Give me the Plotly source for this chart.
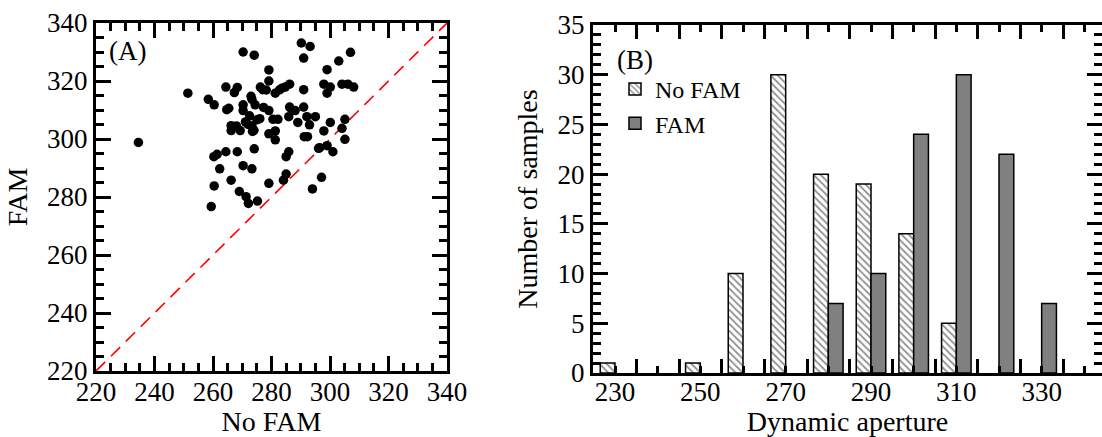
import plotly.graph_objects as go

# ---- Panel A data (scatter) ----
no_fam = [234.5, 251.4, 258.4, 260.4, 259.4, 260.4, 260.3, 261.4, 262.3, 264.4,
          264.4, 264.7, 265.4, 266.2, 266.2, 266.2, 267.3, 268.3, 268.3, 269.0,
          269.3, 270.3, 270.3, 270.3, 270.3, 271.1, 271.3, 272.1, 273.0, 273.3,
          273.3, 273.3, 273.5, 274.1, 274.1, 274.4, 275.0, 275.2, 276.2, 277.3,
          278.2, 279.1, 279.1, 279.1, 279.1, 279.1, 280.5, 281.3, 281.3, 281.3,
          282.2, 282.7, 284.1, 284.7, 285.0, 285.0, 285.9, 285.9, 286.2, 286.2,
          288.1, 289.0, 290.2, 291.0, 291.0, 291.0, 291.2, 292.1, 292.3, 293.0,
          293.2, 294.0, 295.0, 296.1, 297.1, 297.9, 297.9, 299.0, 299.0, 299.0,
          300.1, 300.1, 301.0, 303.0, 304.1, 304.1, 305.1, 305.1, 306.1, 307.0,
          308.1, 272.0, 274.0, 276.0, 272.5, 268.0, 277.0, 283.5, 287.0, 296.5]
fam = [298.8, 315.8, 313.7, 311.8, 276.7, 283.8, 293.9, 294.7, 289.7, 295.6,
       317.9, 310.1, 310.6, 304.6, 302.9, 285.8, 316.0, 317.8, 295.6, 281.9,
       302.9, 330.0, 311.8, 309.8, 290.8, 305.9, 280.1, 277.8, 314.7, 313.7,
       289.7, 304.5, 302.6, 328.9, 296.6, 311.8, 306.6, 278.6, 317.9, 310.9,
       316.9, 323.8, 320.0, 309.8, 301.8, 284.7, 306.8, 299.7, 302.8, 315.8,
       306.8, 316.9, 285.8, 317.9, 287.9, 293.9, 295.6, 307.7, 311.0, 318.9,
       309.8, 305.7, 333.1, 327.9, 317.0, 311.0, 300.8, 307.7, 300.8, 304.9,
       331.9, 282.8, 307.7, 296.8, 286.8, 302.8, 318.9, 323.9, 315.8, 297.7,
       317.9, 305.7, 295.6, 326.9, 303.7, 318.9, 306.8, 299.9, 318.9, 329.9,
       317.9, 305.0, 303.0, 307.0, 308.0, 304.5, 317.0, 317.5, 310.0, 297.0]
diag = [220, 340]

# ---- Panel B data (histogram) ----
bins_nofam = [230, 250, 260, 270, 280, 290, 300, 310]
counts_nofam = [1, 1, 10, 30, 20, 19, 14, 5]
bins_fam = [280, 290, 300, 310, 320, 330]
counts_fam = [7, 10, 24, 30, 22, 7]

a_ticks = [220, 240, 260, 280, 300, 320, 340]
b_xlabels = [230, 250, 270, 290, 310, 330]
b_major = [235, 245, 255, 265, 275, 285, 295, 305, 315, 325, 335]
b_minor = [230, 240, 250, 260, 270, 280, 290, 300, 310, 320, 330, 340]

FONT = "Liberation Serif, Times New Roman, serif"
W, H = 1102, 437
TICK_FS = 27
TITLE_FS = 28
BAR_W = 3.46  # bar width in axis units (each of the paired bars)

fig = go.Figure()
fig.add_trace(go.Scatter(x=diag, y=diag, mode="lines",
                         line=dict(color="#ff0000", width=1.6, dash="13px,8px"),
                         showlegend=False, xaxis="x", yaxis="y"))
fig.add_trace(go.Scatter(x=no_fam, y=fam, mode="markers",
                         marker=dict(color="black", size=9.5),
                         showlegend=False, xaxis="x", yaxis="y"))

fig.add_trace(go.Bar(x=bins_nofam, y=counts_nofam, name="No FAM",
                     width=BAR_W, offset=-BAR_W,
                     marker=dict(color="white", line=dict(color="black", width=1.5),
                                 pattern=dict(shape="\\", fgcolor="#222222", bgcolor="white",
                                              size=5, solidity=0.35)),
                     xaxis="x2", yaxis="y2"))
fig.add_trace(go.Bar(x=bins_fam, y=counts_fam, name="FAM",
                     width=BAR_W, offset=0,
                     marker=dict(color="#808080", line=dict(color="black", width=1.5)),
                     xaxis="x3", yaxis="y2"))

axcommon = dict(showline=True, linewidth=3, linecolor="black", mirror="ticks",
                ticks="inside", tickwidth=2.5, tickcolor="black", showgrid=False,
                zeroline=False, automargin=False,
                tickfont=dict(family=FONT, size=TICK_FS, color="black"),
                title_font=dict(family=FONT, size=TITLE_FS, color="black"))

ax_a_dom = [96 / W, 447 / W]
ay_a_dom = [(H - 371) / H, (H - 23) / H]
ax_b_dom = [593 / W, 1.0]
ay_b_dom = [(H - 373) / H, (H - 25) / H]

xr_b = [230 - 22 / 4.2667, 230 + 487 / 4.2667]

fig.update_layout(
    width=W, height=H,
    margin=dict(l=0, r=0, t=0, b=0),
    paper_bgcolor="white", plot_bgcolor="white",
    font=dict(family=FONT, color="black"),
    barmode="overlay",
    xaxis=dict(domain=ax_a_dom, anchor="y", range=[220, 340], tickvals=a_ticks,
               ticklen=15, ticklabelstandoff=-5,
               minor=dict(dtick=5, tick0=220, ticklen=8, ticks="inside",
                          tickwidth=2.5, tickcolor="black"),
               title=dict(text="No FAM", standoff=4), **axcommon),
    yaxis=dict(domain=ay_a_dom, anchor="x", range=[220, 340], tickvals=a_ticks,
               ticklen=15, minor=dict(dtick=5, tick0=220, ticklen=8, ticks="inside",
                                      tickwidth=2.5, tickcolor="black"),
               title=dict(text="FAM", standoff=12), **axcommon),
    xaxis2=dict(domain=ax_b_dom, anchor="y2", range=xr_b, tickvals=b_major,
                ticktext=[""] * len(b_major), ticklen=14,
                minor=dict(tickmode="array", tickvals=b_minor, ticklen=7, ticks="inside",
                           tickwidth=2.5, tickcolor="black"),
                **axcommon),
    xaxis3=dict(overlaying="x2", anchor="y2", range=xr_b, tickvals=b_xlabels,
                ticks="", showline=False, showgrid=False, zeroline=False,
                automargin=False, ticklabelstandoff=0,
                tickfont=dict(family=FONT, size=TICK_FS, color="black"),
                title=dict(text="Dynamic aperture", standoff=2,
                           font=dict(family=FONT, size=TITLE_FS, color="black"))),
    yaxis2=dict(domain=ay_b_dom, anchor="x2", range=[0, 35], dtick=5, tick0=0,
                ticklen=15, minor=dict(dtick=1, tick0=0, ticklen=8, ticks="inside",
                                       tickwidth=2.5, tickcolor="black"),
                title=dict(text="Number of samples", standoff=12), **axcommon),
    legend=dict(x=615 / W, y=1 - 67 / H, xanchor="left", yanchor="top",
                bgcolor="rgba(0,0,0,0)", font=dict(family=FONT, size=24, color="black"),
                tracegroupgap=0),
    annotations=[
        dict(text="(A)", xref="x domain", yref="y domain", x=0.032, y=0.92,
             xanchor="left", yanchor="middle", showarrow=False,
             font=dict(family=FONT, size=TICK_FS, color="black")),
        dict(text="(B)", xref="x2 domain", yref="y2 domain", x=0.044, y=0.899,
             xanchor="left", yanchor="middle", showarrow=False,
             font=dict(family=FONT, size=TICK_FS, color="black")),
    ],
)

fig.write_html("out.html", config={"displayModeBar": False},
               post_script="document.body.style.margin='0px';"
                           "document.body.style.overflow='hidden';")
